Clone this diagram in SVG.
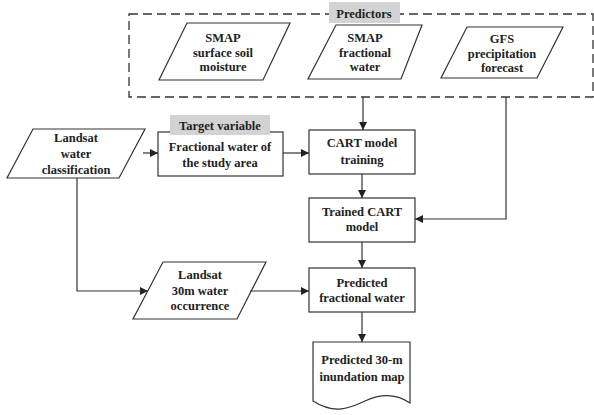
<svg xmlns="http://www.w3.org/2000/svg" width="594" height="415" viewBox="0 0 594 415">
<defs>
<marker id="arr" viewBox="0 0 10 10" refX="10" refY="5" markerWidth="8" markerHeight="8" markerUnits="userSpaceOnUse" orient="auto">
<path d="M0,0 L10,5 L0,10 Z" fill="#222"/>
</marker>
<style>
.shape{fill:#fff;stroke:#333;stroke-width:1.2}
.lbl{fill:#d3d3d3;stroke:none}
.dash{fill:none;stroke:#333;stroke-width:1.3;stroke-dasharray:9,5}
.conn path{fill:none;stroke:#333;stroke-width:1.2;marker-end:url(#arr)}
text{font-family:"Liberation Serif","Times New Roman",serif;font-weight:bold;font-size:12.5px;fill:#222;text-anchor:middle}
</style>
</defs>
<rect width="594" height="415" fill="#fff"/>

<g id="predictors">
<rect class="dash" x="129" y="14" width="464" height="83"/>
<rect class="lbl" x="329" y="2" width="71" height="21"/>
<text x="364" y="18">Predictors</text>
</g>

<g id="smap-ssm">
<polygon class="shape" points="187,23 290,23 263,80 159,80"/>
<text x="223" y="42">SMAP</text>
<text x="223" y="57">surface soil</text>
<text x="223" y="71">moisture</text>
</g>

<g id="smap-fw">
<polygon class="shape" points="336,25 422,25 401,79 308,79"/>
<text x="365" y="42">SMAP</text>
<text x="365" y="57">fractional</text>
<text x="365" y="71">water</text>
</g>

<g id="gfs">
<polygon class="shape" points="467,27 563,27 537,78 441,78"/>
<text x="502" y="43">GFS</text>
<text x="502" y="58">precipitation</text>
<text x="502" y="72">forecast</text>
</g>

<g id="landsat-class">
<polygon class="shape" points="33,129 145,129 119,178 7,178"/>
<text x="76" y="142">Landsat</text>
<text x="76" y="158">water</text>
<text x="76" y="174">classification</text>
</g>

<g id="target">
<rect class="shape" x="158" y="132" width="125" height="44"/>
<rect class="lbl" x="170" y="115" width="100" height="20"/>
<text x="220" y="130">Target variable</text>
<text x="220" y="151">Fractional water of</text>
<text x="220" y="167">the study area</text>
</g>

<g id="cart-train">
<rect class="shape" x="309" y="130" width="106" height="44"/>
<text x="362" y="147">CART model</text>
<text x="362" y="164">training</text>
</g>

<g id="trained-cart">
<rect class="shape" x="309" y="198" width="106" height="44"/>
<text x="362" y="216">Trained CART</text>
<text x="362" y="231">model</text>
</g>

<g id="landsat-30m">
<polygon class="shape" points="163,262 266,262 237,319 133,319"/>
<text x="200" y="279">Landsat</text>
<text x="200" y="295">30m water</text>
<text x="200" y="310">occurrence</text>
</g>

<g id="predicted-fw">
<rect class="shape" x="309" y="268" width="106" height="44"/>
<text x="362" y="287">Predicted</text>
<text x="362" y="302">fractional water</text>
</g>

<g id="inundation-map">
<path class="shape" d="M313,342 H410 V403 C395,393 380,394 365,401 C350,408 335,415 313,401 Z"/>
<text x="362" y="364">Predicted 30-m</text>
<text x="362" y="381">inundation map</text>
</g>

<g id="connectors" class="conn">
<path d="M143,153 H158"/>
<path d="M283,153 H309"/>
<path d="M363,97 V130"/>
<path d="M362,174 V198"/>
<path d="M506,97 V219 H415"/>
<path d="M362,242 V268"/>
<path d="M77,178 V291 H148"/>
<path d="M250,291 H309"/>
<path d="M362,312 V342"/>
</g>
</svg>
